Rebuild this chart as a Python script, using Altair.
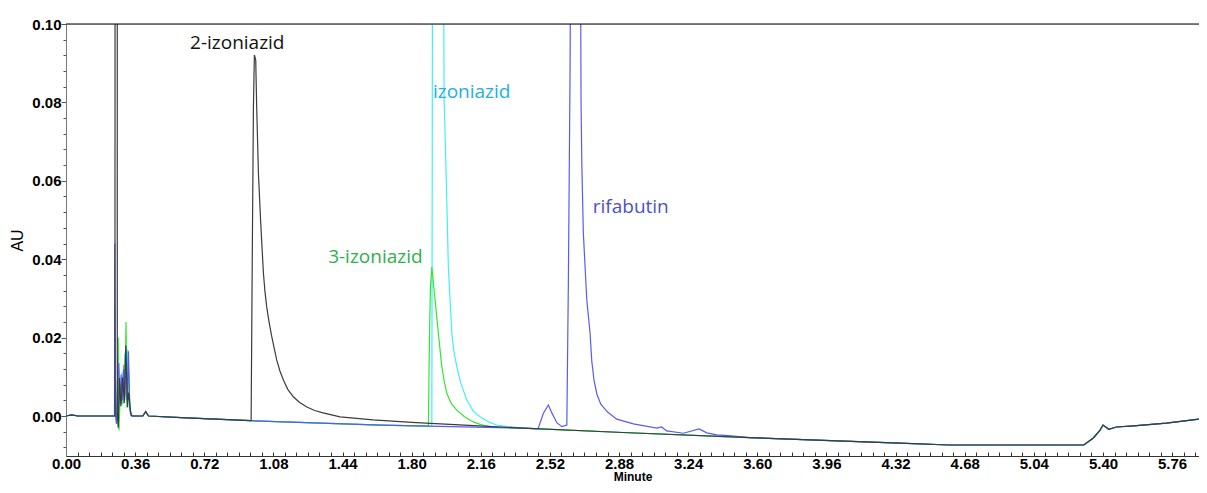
import altair as alt
import pandas as pd

# ---------------- data ----------------
# shared drifting baseline of all four runs (minutes, AU)
base_t = [0.00, 0.03, 0.06, 0.25, 0.345, 0.40, 0.415, 0.43, 0.60, 0.96, 1.64, 2.38,
          2.90, 3.56, 4.34, 4.60, 5.30, 5.35, 5.385, 5.40, 5.43, 5.47, 5.56, 5.73, 5.90, 5.96]
base_y = [0.0, 0.0003, 0.0, 0.0, 0.0, 0.0, 0.0011, 0.0, -0.0004, -0.0012, -0.0023, -0.0031,
          -0.0042, -0.0055, -0.0069, -0.0074, -0.0074, -0.0056, -0.0036, -0.0023, -0.0034,
          -0.0028, -0.0025, -0.0018, -0.0008, -0.0005]

# 2-izoniazid (black)
black_t = [0.2550, 0.2555, 0.2668, 0.2672, 0.272, 0.2775, 0.286, 0.295, 0.3036, 0.3115, 0.320,
           0.326, 0.3385,
           0.964, 0.970, 0.976, 0.981, 0.988, 0.993, 1.002, 1.014, 1.028, 1.036, 1.045, 1.058,
           1.071, 1.097, 1.114, 1.132, 1.155, 1.184, 1.215, 1.254, 1.295, 1.339, 1.427, 1.599,
           1.80, 2.10]
black_y = [0.0, 0.15, 0.15, 0.0, -0.003, 0.0097, 0.0025, 0.0099, 0.0033, 0.018, 0.0023,
           0.006, 0.0002,
           -0.0012, 0.0406, 0.0788, 0.0921, 0.0908, 0.0788, 0.062, 0.0492, 0.0365, 0.0318,
           0.0279, 0.0238, 0.0204, 0.0143, 0.0115, 0.0092, 0.0068, 0.0049, 0.0035, 0.0023,
           0.0014, 0.0008, -0.0002, -0.001, -0.0016, -0.0024]
black_windows = [(0.25, 0.345), (0.96, 2.38)]

# rifabutin (blue)
blue_t = [0.2530, 0.2540, 0.2575, 0.263, 0.268, 0.275, 0.281, 0.287, 0.293, 0.300, 0.306,
          0.3115, 0.318, 0.325, 0.332, 0.340,
          2.458, 2.486, 2.512, 2.530, 2.556, 2.582, 2.608, 2.616, 2.625, 2.630, 2.677, 2.682,
          2.686, 2.694, 2.712, 2.729, 2.738, 2.750, 2.765, 2.785, 2.820, 2.868, 2.955, 3.077,
          3.102, 3.128, 3.215, 3.297, 3.337, 3.389, 3.45]
blue_y = [0.0, 0.044, 0.0, -0.002, 0.009, 0.0135, 0.003, 0.0105, 0.004, 0.012, 0.005,
          0.0168, 0.004, 0.0165, 0.002, 0.0005,
          -0.0033, 0.0007, 0.0028, 0.0008, -0.0017, -0.0027, -0.0023, 0.034, 0.089, 0.15, 0.15,
          0.0806, 0.0645, 0.0467, 0.0296, 0.0211, 0.0140, 0.0090, 0.0055, 0.0030, 0.0010,
          -0.0008, -0.0020, -0.0031, -0.0028, -0.0038, -0.0044, -0.0033, -0.0043, -0.0048,
          -0.0050]
blue_windows = [(0.25, 0.345), (2.38, 3.56)]

# izoniazid (cyan)
cyan_t = [0.262, 0.270, 0.278, 0.290, 0.298, 0.306, 0.314, 0.322, 0.330, 0.340,
          1.905, 1.907, 1.909, 1.963, 1.969, 1.974, 1.983, 1.991, 2.009, 2.020, 2.035, 2.055,
          2.087, 2.120, 2.156, 2.200, 2.243, 2.30]
cyan_y = [0.0, 0.008, 0.002, 0.011, 0.003, 0.016, 0.004, 0.017, 0.002, 0.0,
          -0.0026, 0.06, 0.15, 0.15, 0.0806, 0.072, 0.055, 0.038, 0.0211, 0.0165, 0.0126,
          0.0085, 0.0041, 0.0013, -0.0002, -0.0015, -0.0023, -0.0027]
cyan_windows = [(0.25, 0.345), (1.64, 2.38)]

# 3-izoniazid (green)
green_t = [0.252, 0.2545, 0.258, 0.268, 0.272, 0.276, 0.284, 0.292, 0.300, 0.306, 0.3125,
           0.318, 0.326, 0.334, 0.342,
           1.887, 1.893, 1.898, 1.905, 1.922, 1.939, 1.957, 1.970, 1.983, 2.005, 2.035, 2.075,
           2.121, 2.160, 2.208]
green_y = [0.0, 0.027, 0.0, 0.0, 0.020, -0.0036, 0.008, 0.003, 0.013, 0.004, 0.024,
           0.002, 0.012, 0.001, 0.0,
           -0.0026, 0.021, 0.033, 0.038, 0.0296, 0.0211, 0.0126, 0.0088, 0.0058, 0.0033,
           0.0015, -0.0002, -0.0015, -0.0022, -0.0027]
green_windows = [(0.25, 0.345), (1.64, 2.38)]

# peak annotations
label_text = ["2-izoniazid", "izoniazid", "rifabutin", "3-izoniazid"]
label_t = [0.646, 1.911, 2.743, 1.365]
label_y = [0.0952, 0.0827, 0.0534, 0.0406]
label_color = ["#111111", "#22aee6", "#4b50cc", "#2db04a"]

x_major = [0.00, 0.36, 0.72, 1.08, 1.44, 1.80, 2.16, 2.52, 2.88, 3.24, 3.60, 3.96,
           4.32, 4.68, 5.04, 5.40, 5.76]
y_major = [0.00, 0.02, 0.04, 0.06, 0.08, 0.10]
y_minor = [-0.008, -0.004, 0.004, 0.008, 0.012, 0.016, 0.024, 0.028, 0.032, 0.036,
           0.044, 0.048, 0.052, 0.056, 0.064, 0.068, 0.072, 0.076, 0.084, 0.088,
           0.092, 0.096]


def trace(ft, fy, windows):
    keep = [(t, y) for t, y in zip(base_t, base_y)
            if not any(a < t < b for a, b in windows)]
    pts = sorted(keep + list(zip(ft, fy)))
    return pd.DataFrame(pts, columns=["t", "v"])


W, H = 1133, 432
x_ticks = sorted(set(round(m + k * 0.06, 2) for m in x_major for k in range(6) if m + k * 0.06 <= 5.90))

x_enc = alt.X(
    "t:Q",
    scale=alt.Scale(domain=[0, 5.90], nice=False, zero=False),
    axis=alt.Axis(
        values=x_ticks,
        labelExpr="abs(datum.value/0.36 - round(datum.value/0.36)) < 0.01 ? format(datum.value, '.2f') : ''",
        tickSize={"expr": "-4"},
        tickColor="#333333",
        domainColor="#333333",
        labelFont="Liberation Sans",
        labelFontWeight="bold",
        labelFontSize=15,
        labelColor="#000000",
        labelPadding=4,
        labelFlush=False,
        labelOverlap=False,
        grid=False,
        title="Minute",
        titleFont="Liberation Sans",
        titleFontWeight="bold",
        titleFontSize=12,
        titleColor="#000000",
        titlePadding=0,
    ),
)

y_enc = alt.Y(
    "v:Q",
    scale=alt.Scale(domain=[-0.0102, 0.10], nice=False, zero=False),
    axis=alt.Axis(
        values=sorted(y_major + y_minor),
        labelExpr="abs(datum.value*50 - round(datum.value*50)) < 0.001 ? format(datum.value, '.2f') : ''",
        tickSize={"condition": {"test": "abs(datum.value*50 - round(datum.value*50)) < 0.001", "value": 5}, "value": 3},
        tickColor="#555555",
        domainColor="#777777",
        labelFont="Liberation Sans",
        labelFontWeight="bold",
        labelFontSize=15,
        labelColor="#000000",
        labelPadding=0,
        labelFlush=False,
        labelOverlap=False,
        grid=False,
        title="AU",
        titleFont="Liberation Sans",
        titleFontWeight="normal",
        titleFontSize=16,
        titleColor="#000000",
        titlePadding=6,
    ),
)


def line(df, color, width=1.2):
    return alt.Chart(df).mark_line(color=color, strokeWidth=width, clip=True, interpolate="linear").encode(
        x=x_enc, y=y_enc, order="t:Q")


cyan = line(trace(cyan_t, cyan_y, cyan_windows), "#3ef2f2")
green = line(trace(green_t, green_y, green_windows), "#33e633")
blue = line(trace(blue_t, blue_y, blue_windows), "#5a5af2")
black = line(trace(black_t, black_y, black_windows), "#3c3c3c")

labels = alt.Chart(pd.DataFrame({"t": label_t, "v": label_y, "txt": label_text, "c": label_color})).mark_text(
    align="left", baseline="middle", font="Open Sans", fontSize=19
).encode(x=x_enc, y=y_enc, text="txt:N", color=alt.Color("c:N", scale=None))

top = alt.Chart(pd.DataFrame({"a": [0]})).mark_rule(color="#000000", strokeWidth=1).encode(
    x=alt.value(0), x2=alt.value(W), y=alt.value(0))

chart = alt.layer(cyan, green, blue, black, labels, top).properties(
    width=W, height=H,
    autosize=alt.AutoSizeParams(type="none"),
    padding={"left": 58, "top": 16, "right": 0, "bottom": 29},
).configure_view(stroke=None).configure(background="#ffffff")

chart.save("out.html", embed_options={"renderer": "svg", "actions": False})
